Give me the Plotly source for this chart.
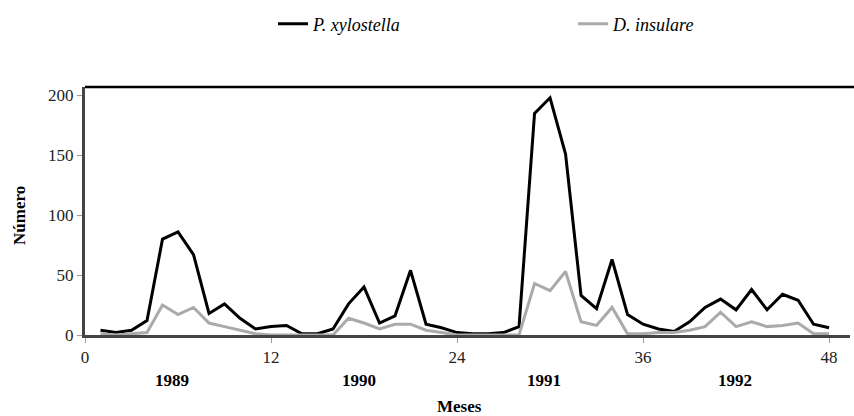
import plotly.graph_objects as go

months = list(range(1, 49))
p_xylostella = [4, 2, 4, 12, 80, 86, 67, 18, 26, 14, 5, 7,
                8, 1, 1, 5, 26, 40, 10, 16, 54, 9, 6, 2,
                1, 1, 2, 7, 185, 198, 151, 33, 22, 63, 17, 9,
                5, 3, 11, 23, 30, 21, 38, 21, 34, 29, 9, 6]
d_insulare = [1, 0, 1, 2, 25, 17, 23, 10, 7, 4, 1, 0,
              0, 0, 0, 0, 14, 10, 5, 9, 9, 4, 2, 0,
              0, 0, 0, 0, 43, 37, 53, 11, 8, 23, 1, 1,
              2, 2, 4, 7, 19, 7, 11, 7, 8, 10, 1, 1]
x_ticks = [0, 12, 24, 36, 48]
y_ticks = [0, 50, 100, 150, 200]
years = ["1989", "1990", "1991", "1992"]
year_pos = [5.6, 17.7, 29.6, 41.9]

font_family = "Liberation Serif"

fig = go.Figure()
fig.add_trace(go.Scatter(x=months, y=p_xylostella, mode="lines",
                         name="P. xylostella", legend="legend",
                         line=dict(color="#000000", width=3)))
fig.add_trace(go.Scatter(x=months, y=d_insulare, mode="lines",
                         name="D. insulare", legend="legend2",
                         line=dict(color="#aaaaaa", width=3)))

for yr, xp in zip(years, year_pos):
    fig.add_annotation(x=xp, y=-0.183, xref="x", yref="paper", text="<b>" + yr + "</b>",
                       showarrow=False, yanchor="middle",
                       font=dict(family=font_family, size=17, color="#000000"))

fig.add_annotation(x=0.49, y=-0.29, xref="paper", yref="paper", text="<b>Meses</b>",
                   showarrow=False, yanchor="middle",
                   font=dict(family=font_family, size=17, color="#000000"))

fig.add_annotation(x=-0.085, y=0.484, xref="paper", yref="paper", text="<b>Número</b>",
                   showarrow=False, textangle=-90, xanchor="center", yanchor="middle",
                   font=dict(family=font_family, size=17, color="#000000"))

fig.add_shape(type="line", xref="paper", yref="paper", x0=0, x1=1.01, y0=1, y1=1,
              line=dict(color="#000000", width=2.5))

legend_common = dict(orientation="h", xanchor="left", yref="container", y=0.942,
                     yanchor="middle", bgcolor="rgba(0,0,0,0)",
                     font=dict(family=font_family, size=18, color="#000000", style="italic"))

fig.update_layout(
    width=854, height=416,
    margin=dict(l=85, r=4, t=87, b=81),
    paper_bgcolor="white", plot_bgcolor="white",
    font=dict(family=font_family, size=17, color="#222222"),
    showlegend=True,
    legend=dict(x=0.2458, **legend_common),
    legend2=dict(x=0.638, **legend_common),
    xaxis=dict(range=[0, 49.35], tickvals=x_ticks, ticks="outside", ticklen=5,
               tickcolor="#999999", showgrid=False, zeroline=False, automargin=False,
               showline=True, linecolor="#444444", linewidth=3,
               tickfont=dict(family=font_family, size=17, color="#222222")),
    yaxis=dict(range=[0, 207], tickvals=y_ticks, ticks="outside", ticklen=5,
               tickcolor="#999999", showgrid=False, zeroline=False, automargin=False,
               showline=True, linecolor="#444444", linewidth=3,
               tickfont=dict(family=font_family, size=17, color="#222222")),
)

fig.write_html("out.html", config={"displayModeBar": False},
               post_script="document.body.style.margin='0';")
